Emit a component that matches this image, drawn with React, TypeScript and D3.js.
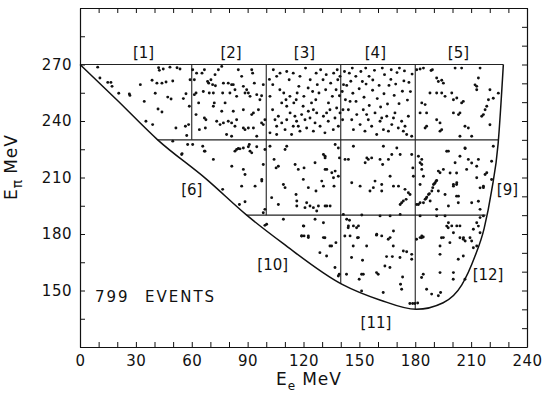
import React, { useEffect, useRef } from "react";
import * as d3 from "d3";

// axis ticks
const xMinorTicks = d3.range(0, 241, 10);
const xTickLabels = [0, 30, 60, 90, 120, 150, 180, 210, 240];
const yLeftTicks = d3.range(120, 301, 15);
const yRightTicks = d3.range(120, 301, 10);
const yTickLabels = [150, 180, 210, 240, 270];

// kinematic boundary (E_e, E_pi)
const boundaryEe = [0, 20, 41.7, 68, 89.5, 109, 140.5, 161, 180.5, 195, 205, 212, 217, 221, 224.5, 227.3];
const boundaryEpi = [270, 251, 230, 209, 190, 175, 153.4, 145, 140, 143.5, 153, 168, 183, 203, 228, 270];

// cell dividers
const hLineEpi = [270, 230, 190];
const hLineFrom = [0, 41.7, 89.5];
const hLineTo = [227.3, 224.6, 217.8];
const vLineEe = [60, 100, 140, 180];
const vLineTo = [230, 190, 153.4, 140];

const cellLabels = ["[1]", "[2]", "[3]", "[4]", "[5]", "[6]", "[9]", "[10]", "[11]", "[12]"];
const cellLabelEe = [34.1, 81.1, 120.5, 158.6, 203.2, 60, 229.5, 103.5, 158.9, 219.1];
const cellLabelEpi = [276, 276, 276, 276, 276, 203.4, 203.4, 163.3, 132.7, 158.2];

// events (E_e, E_pi) per cell
const cell1 = [[9.5,268.6],[10.7,262.8],[14.9,260.5],[16.6,260.5],[17.2,258.4],[20.8,254.7],[26.5,254.3],[26.8,253.6],[32.4,259.3],[34.5,250.4],[35.4,239.9],[38.7,261.6],[39,238.1],[40.4,254.7],[41.3,260.1],[41.9,246.4],[42.2,268.3],[42.6,266.9],[44,244.8],[44,260.1],[44.7,267.6],[46.2,260.7],[47.1,252.7],[48.3,268.6],[48.9,251.7],[49.8,261.2],[51.5,236.3],[52.1,268.3],[53.7,267.6],[55.5,251.9],[56.6,237.2],[56.9,254.5],[57.3,232.3],[58.3,238.1],[58.7,247.8],[59.1,261.9]];
const cell2 = [[60.5,267.2],[61.4,261.9],[62.6,265.4],[65.5,265.4],[66.8,267.2],[68.5,261],[69.1,260.1],[69.4,254.9],[70.3,261.9],[71.2,259.3],[71.6,254.9],[72.1,249.6],[62.3,254.9],[61.4,254],[63.7,249.6],[62.3,243.4],[66.8,241.6],[67.6,240.7],[67.3,236.3],[64.1,235.4],[72.7,258.7],[66.2,255.7],[72.5,264.6],[74.3,267.2],[76.1,269],[77,260.1],[77.9,249.6],[79.6,260.1],[80.5,254.9],[81.4,259.3],[82.3,259.3],[83.2,256.6],[84.1,253.1],[85,267.2],[86.8,263.7],[87.7,258.4],[88.6,254.9],[89.5,256.6],[90.4,254.9],[91.3,253.1],[92.2,267.2],[92.7,265.4],[93.6,260.1],[94.9,254],[95.8,246],[96.6,251.3],[97.5,253.4],[98.4,259.3],[93.1,244.3],[92.2,243.4],[73.4,239.9],[75.2,238.1],[77,239],[79.6,239.9],[81.4,239],[83.2,237.2],[84.1,240.7],[87.7,236.3],[88.6,235.4],[90.4,236.3],[93.1,236.3],[94.9,231.9],[81.4,231.9],[78.7,232.8],[71.6,247.8],[76.1,245.2],[82.3,245.2],[87.7,246],[98.4,238.1],[97.5,239],[99.3,240.7],[76.6,254.9]];
const cell3 = [[103.5,259.3],[103.8,267.2],[101.7,262.1],[105.6,263.7],[107.3,256.6],[107.4,265.4],[108.3,249.6],[110.6,251.3],[109.4,254.9],[111,266.3],[112.7,253.1],[112.3,261.9],[114.8,249.6],[114.5,265.4],[116.6,254.9],[117.5,258.4],[116.1,251.3],[118.1,263.7],[119.8,247.8],[121.1,268.1],[120.2,253.1],[122.5,257.5],[123.6,261.9],[124.3,249.6],[124.9,255.7],[126.8,265.4],[127.4,259.3],[126.6,251.3],[129.2,267.2],[128.3,254.9],[130.5,261.9],[131.9,256.6],[132.2,264.6],[133.4,249.6],[134.6,260.1],[135.5,253.1],[136.2,265.4],[137.5,256.6],[138.4,261.9],[138.1,267.2],[139.3,253.4],[139.6,263.7],[103.4,246],[104.7,240.7],[105.6,237.2],[106.5,242.5],[108.3,239],[110.1,235.4],[111,240.7],[112.8,244.3],[114.5,237.2],[115.4,242.5],[116.3,239.9],[118.1,234.6],[119,243.4],[120.8,240.7],[121.7,236.3],[122.6,245.2],[123.5,241.6],[125.3,234.6],[126.2,239],[127.1,244.3],[128.9,237.2],[130.7,242.5],[131.5,233.7],[133.3,239.9],[134.2,246],[136,235.4],[136.9,241.6],[137.8,246.9],[138.7,237.2],[139.6,244.3],[102,233.7],[105.6,232.8],[113.6,232.8],[117.2,237.2],[125.3,246],[132.4,244.3],[102,253.1],[111,247.8]];
const cell4 = [[143.2,258.9],[144.6,265.4],[145.4,261.1],[146.2,268.1],[146.5,254.7],[148.1,263.7],[148.2,250.4],[149.9,257.1],[150.8,266.3],[151.6,261],[152.5,252.6],[153.4,268.1],[153.6,259.6],[155.2,263.7],[155.3,248.2],[157.1,256.3],[157.2,261.8],[158.1,266.9],[159.6,251.9],[160.6,258.9],[161.4,247.4],[162.3,268.1],[163.2,254.5],[163.5,264.6],[165.1,249],[165.9,258.9],[166.9,262.1],[167.1,267.2],[168.7,253.6],[169.5,259.6],[170.2,265.7],[171.3,249.2],[171.5,268.1],[173.1,255.8],[173.9,261.3],[174.2,266.6],[175.8,251.1],[176.6,260.5],[177.4,255.6],[178.3,264.9],[144.1,246],[145.9,240.7],[146.8,235.4],[148.6,243.4],[150.4,238.1],[152.1,246],[153,234.6],[154.8,240.7],[156.6,237.2],[158.4,244.3],[159.3,232.8],[161.1,239.9],[162.9,235.4],[164.7,242.5],[165.6,234.6],[167.4,238.1],[169.1,244.3],[170.9,236.3],[172.7,239.9],[173.6,234.6],[174.5,237.2],[175.4,232.8],[176.3,242.5],[178.1,231.9],[145,250.4],[162,241.6],[153.9,243.4],[168.3,241.6],[140.8,255.7],[141.2,246],[141.5,259.3],[142,266.3],[141,240.7],[142.5,251.3]];
const cell5 = [[180.8,267.2],[182.6,267.6],[184.4,268.1],[188.5,266.8],[189.2,267.2],[191.5,262.8],[192.4,261],[194.2,261.6],[195.1,260.1],[194.2,254.9],[196,253.1],[191.5,254.9],[187.9,254.9],[183.5,249.6],[185.3,248.7],[182.6,244.3],[186.1,244.3],[191.5,240.7],[193.3,239],[194.2,235.4],[193.3,234.6],[185.3,236.3],[186.1,237.2],[199.6,254.9],[200.5,251.3],[202.3,252.2],[204.9,249.6],[205.8,250.4],[204,244.3],[200.5,244.3],[203.2,243.4],[206.7,237.2],[208.5,236.3],[204,231.9],[210.3,231.9],[213,258.4],[213,256.6],[213.9,262.8],[215.7,242.5],[216.6,243.4],[217.5,246],[218.4,247.8],[201.4,268.1],[204.9,268.1],[214.8,268.1],[219.3,251.3],[220.1,256.6],[221.9,252.1],[224.6,254.8],[220.1,238],[212.1,259.2]];
const cell6 = [[49.8,229.3],[57.8,227.5],[60.5,227.5],[65.9,226.6],[66.8,224],[54.8,222.7],[84.1,224.9],[85.9,225.2],[87.7,225.7],[90.4,226.3],[91.3,224],[90.9,227.5],[94.9,226.3],[99.3,224.9],[54.6,222.2],[67.1,224],[71.6,219.6],[81.5,216],[83.2,224],[85,225.4],[87.7,214.3],[88.6,211.6],[86.8,205.4],[94,205.4],[97.6,209],[98.4,216.9],[92.2,223.1],[76.6,203.7],[85.6,195.7],[88.6,197.1],[99.3,193.1],[97.6,208.1],[98.4,191.3]];
const cell7 = [[102,226.6],[102.9,199.3],[104.2,219.6],[105.3,215.1],[106.5,216],[106.5,195.7],[109.2,206.3],[110.1,204.6],[110.1,224.9],[111,226.6],[115.5,216.9],[116,201],[116.4,197.5],[116.4,194.9],[117.2,214.3],[119.9,209],[120.3,215.1],[120.8,194],[121.7,196.6],[122.6,204.6],[123.5,194.9],[125.3,194],[126.2,217.8],[126.7,202.8],[127.1,192.2],[128,194.9],[129.8,208.1],[130.7,222.2],[131.6,220.4],[132.5,194.9],[131.6,214.3],[130.7,205.4],[131.6,221.3],[131.6,194.9],[132.5,214.3],[135.2,212.5],[136.1,209.9],[136.4,205.4],[137,213.4],[134.3,194.9],[138.7,225.7],[139.3,220.4],[138.7,210.7],[137,227.5]];
const cell8 = [[142.3,219.6],[144.1,219.6],[145.9,207.2],[146.8,226.6],[150.4,205.4],[153.1,217.8],[154,220.4],[154.8,219.6],[156.6,220.4],[155.7,202.8],[157.5,204.6],[158.4,208.1],[161.1,219.6],[162,206.3],[162,202.8],[162.5,216.9],[165.6,219.6],[166.5,210.7],[167.4,222.2],[168.3,205.4],[171,205.4],[171.9,222.2],[171.9,195.7],[172.7,196.6],[173.6,197.5],[174.5,203.7],[175.1,198.4],[176.3,201.9],[177.2,201],[178.7,215.1],[178.1,222.2],[179,210.7],[162.9,226.6],[170.1,225.7]];
const cell9 = [[181.7,221.3],[182.6,217.8],[183.5,219.6],[183.5,216.9],[183.5,214.3],[184.4,210.7],[182.6,206.3],[181.7,195.7],[182.6,196.6],[184.4,196.6],[185.3,198.4],[186.2,199.6],[187.1,201],[188.9,202.8],[189.4,204.6],[189.8,206.3],[190.7,207.2],[191.5,208.4],[192.4,213.4],[193.3,212.5],[195.1,214.3],[197.8,224],[196,201],[192.4,202.8],[191.5,193.1],[197.8,194.9],[201.4,217.8],[200.5,205.4],[202.3,207.2],[203.2,200.1],[206.8,225.4],[207.6,214.3],[208.5,219.6],[210.3,196.6],[213,209.9],[213.9,219.6],[216.6,204.6],[217.5,211.6],[218.4,212.5],[214.8,193.1],[188,197.5],[180.8,195.7],[185.8,198.9],[187.6,201.4],[190.3,206.7],[191.2,208.1],[204,221.3],[196.9,223.9],[206.7,225.7],[198.7,212.4],[200.5,206.3],[202.2,206.3],[210.3,217.7],[213,216],[221,218.6],[214.8,204.5],[216.6,205.4],[221,208.9],[202.2,200.1],[203.1,196.6],[213.9,197.4],[221.9,226.6],[202.2,212.4]];
const cell10 = [[100.2,185.2],[109.2,187.8],[119.9,184.3],[120.3,179],[119,179],[122.6,178.1],[130.7,178.1],[126.2,187.8],[130.7,186],[99.3,184.6],[119,178.9],[122.6,178.9],[120.2,184.2],[131.5,178],[128.8,170.1],[132.4,168.3],[134.2,173.6],[135.1,173.6],[137.4,175.4],[136.9,162.2],[138.7,157.7],[139.2,158.6]];
const cell11 = [[141.4,190.4],[143.2,187.8],[144.1,184.3],[144.7,187.3],[146.8,184.3],[149.5,184.3],[145,179],[149.5,178.1],[159.3,179.9],[166.5,178.1],[168.3,181.6],[166.5,189.6],[161.1,189.6],[151.3,190.1],[162,179],[171.9,190.4],[144,183.3],[148.5,183.3],[142.2,178.9],[149,178],[146.7,173.6],[153.9,173.6],[159.2,179.4],[165.5,177.2],[168.2,173.6],[164.6,168],[167.7,168],[171.8,167.5],[173.6,171],[175.4,170.6],[178.1,169.2],[178.1,166.6],[145.8,167.5],[151.7,166.1],[151.2,158.6],[152.1,158.6],[149.9,156],[143.1,158.6],[159.2,159.5],[160.1,158.6],[163.7,163],[166.4,162.2],[173.2,157.2],[172.1,153.3],[172.7,150.7],[151.2,149.8],[162.8,148.9],[177.1,143.1],[178.6,143.1],[179.8,143.1]];
const cell12 = [[181.3,143.4],[183.4,178],[184.3,178.4],[180.7,177.2],[194.1,178],[193.3,173.6],[197.7,183.3],[198.6,175.4],[204,178],[205.8,177.2],[203.1,166.6],[193.3,169.2],[200.4,156],[184.3,158.6],[183.4,156.9],[186.1,150.7],[188.8,148.1],[192.4,147.2],[193.6,148.9],[182.6,189.6],[191.5,189.6],[196,189.6],[197.8,186],[199.6,184.3],[202.3,184.3],[204,184.3],[195.1,178.1],[205.9,178.1],[206.8,176.3],[211.2,182.5],[213,186],[214.8,188.7],[216.6,189.6],[182.6,178.1],[183.5,179],[196.9,184.2],[200.5,180.7],[209.4,178],[210.3,176.3],[211.2,172.7],[213,173.6],[205.8,168.3],[200.5,159.5],[206.7,156],[193.3,159.5],[213.9,184.2],[214.8,180.7]];

const events = [cell1, cell2, cell3, cell4, cell5, cell6, cell7, cell8, cell9, cell10, cell11, cell12];

const FONT = "DejaVu Sans";

export default function App() {
  const ref = useRef<SVGSVGElement>(null);

  useEffect(() => {
    const svg = d3.select(ref.current);
    svg.selectAll("*").remove();

    const x = d3.scaleLinear().domain([0, 240]).range([80, 527]);
    const y = d3.scaleLinear().domain([120, 300]).range([347, 8]);

    const styleAxis = (g: any) => {
      g.select(".domain").attr("stroke", "#111").attr("stroke-width", 1.2);
      g.selectAll(".tick line").attr("stroke", "#111").attr("stroke-width", 1);
      g.selectAll("text")
        .attr("font-family", FONT)
        .attr("font-size", 15)
        .attr("letter-spacing", 0.5)
        .attr("fill", "#111");
    };

    svg.append("g")
      .attr("transform", "translate(0,347)")
      .call(
        d3.axisBottom(x)
          .tickValues(xMinorTicks)
          .tickSizeInner(-5)
          .tickSizeOuter(0)
          .tickPadding(8)
          .tickFormat((d: any) => (xTickLabels.includes(d) ? String(d) : ""))
      )
      .call(styleAxis);

    svg.append("g")
      .attr("transform", "translate(0,8)")
      .call(d3.axisTop(x).tickValues(xMinorTicks).tickSizeInner(-5).tickSizeOuter(0).tickFormat(() => ""))
      .call(styleAxis);

    svg.append("g")
      .attr("transform", "translate(80,0)")
      .call(
        d3.axisLeft(y)
          .tickValues(yLeftTicks)
          .tickSizeInner(-5)
          .tickSizeOuter(0)
          .tickPadding(8)
          .tickFormat((d: any) => (yTickLabels.includes(d) ? String(d) : ""))
      )
      .call(styleAxis);

    svg.append("g")
      .attr("transform", "translate(527,0)")
      .call(d3.axisRight(y).tickValues(yRightTicks).tickSizeInner(-5).tickSizeOuter(0).tickFormat(() => ""))
      .call(styleAxis);

    // cell dividers
    hLineEpi.forEach((e, i) => {
      svg.append("line")
        .attr("x1", x(hLineFrom[i])).attr("x2", x(hLineTo[i]))
        .attr("y1", y(e)).attr("y2", y(e))
        .attr("stroke", "#222").attr("stroke-width", 1.1);
    });
    vLineEe.forEach((ee, i) => {
      svg.append("line")
        .attr("x1", x(ee)).attr("x2", x(ee))
        .attr("y1", y(270)).attr("y2", y(vLineTo[i]))
        .attr("stroke", "#222").attr("stroke-width", 1.1);
    });

    // boundary
    const pts = boundaryEe.map((d, i) => [d, boundaryEpi[i]] as [number, number]);
    const line = d3.line<[number, number]>()
      .x((d) => x(d[0]))
      .y((d) => y(d[1]))
      .curve(d3.curveMonotoneX);
    svg.append("path")
      .attr("d", line(pts))
      .attr("fill", "none")
      .attr("stroke", "#111")
      .attr("stroke-width", 1.5);

    // events
    const all = events.flat();
    svg.append("g")
      .selectAll("circle")
      .data(all)
      .join("circle")
      .attr("cx", (d) => x(d[0]))
      .attr("cy", (d) => y(d[1]))
      .attr("r", 1.45)
      .attr("fill", "#111");

    // cell labels
    cellLabels.forEach((t, i) => {
      svg.append("text")
        .attr("x", x(cellLabelEe[i]))
        .attr("y", y(cellLabelEpi[i]))
        .attr("text-anchor", "middle")
        .attr("dominant-baseline", "central")
        .attr("font-family", FONT)
        .attr("font-size", 15)
        .attr("fill", "#111")
        .text(t);
    });

    // event count
    svg.append("text")
      .attr("x", 95).attr("y", 302)
      .attr("font-family", FONT).attr("font-size", 15)
      .attr("letter-spacing", 2).attr("fill", "#111")
      .text("799");
    svg.append("text")
      .attr("x", 145).attr("y", 302)
      .attr("font-family", FONT).attr("font-size", 15)
      .attr("letter-spacing", 2).attr("fill", "#111")
      .text("EVENTS");

    // axis titles
    const xt = svg.append("text")
      .attr("x", 276).attr("y", 385)
      .attr("font-family", FONT).attr("font-size", 17)
      .attr("letter-spacing", 1).attr("fill", "#111");
    xt.append("tspan").text("E");
    xt.append("tspan").attr("font-size", 12).attr("dy", 5).text("e");
    xt.append("tspan").attr("dy", -5).attr("dx", 6).text("MeV");

    const yt = svg.append("text")
      .attr("transform", "translate(17,200) rotate(-90)")
      .attr("font-family", FONT).attr("font-size", 17)
      .attr("letter-spacing", 1).attr("fill", "#111");
    yt.append("tspan").text("E");
    yt.append("tspan").attr("font-size", 14).attr("dy", 5).text("π");
    yt.append("tspan").attr("dy", -5).attr("dx", 5).text("MeV");
  }, []);

  return (
    <svg
      ref={ref}
      width={549}
      height={400}
      style={{ position: "absolute", left: 0, top: 0, background: "#fff" }}
    />
  );
}
